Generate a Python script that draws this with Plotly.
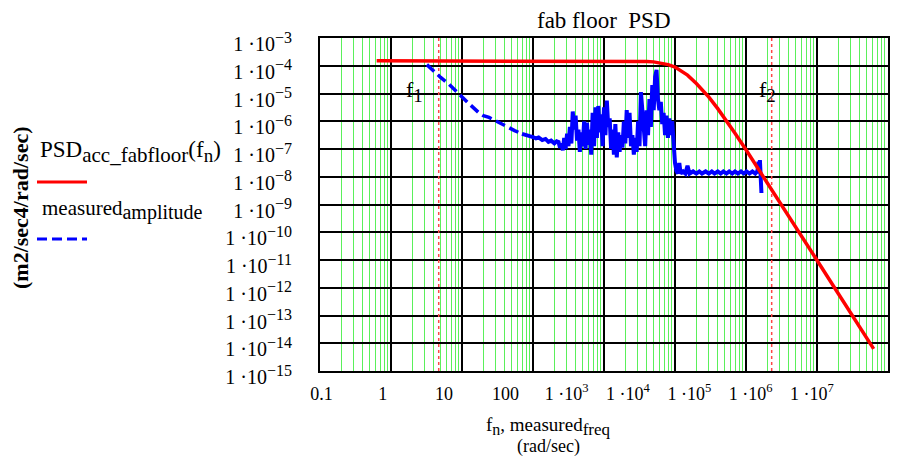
import math
import plotly.graph_objects as go

# ---------------- data ----------------
psd_freq = [0.628, 100, 1000, 2000, 3000, 4000, 5000, 6000, 7000, 8000,
            1.0e4, 1.2e4, 1.5e4, 2.0e4, 2.5e4, 3.0e4, 4.0e4, 5.0e4, 7.0e4,
            1.0e5, 1.5e5, 2.0e5, 3.0e5, 5.0e5, 7.0e5, 1.0e6, 2.0e6, 4.0e6, 6.28e6]
psd_value = [1.5e-4, 1.5e-4, 1.49e-4, 1.48e-4, 1.47e-4, 1.43e-4, 1.38e-4, 1.3e-4, 1.2e-4, 1.1e-4,
             9.0e-5, 6.8e-5, 4.6e-5, 2.3e-5, 1.27e-5, 7.4e-6, 2.85e-6, 1.29e-6, 3.7e-7,
             9.4e-8, 1.9e-8, 6.1e-9, 1.21e-9, 1.57e-10, 4.1e-11, 9.8e-12, 6.1e-13, 3.8e-14, 6.3e-15]

measured_freq = [
    3.2, 4.0, 5.0, 6.5, 9.1, 12, 17, 20, 24, 30, 42, 55, 70,
    80, 90, 100, 110, 120, 135, 150, 165, 180, 200, 215,
    229, 240, 251, 263, 275, 288, 302, 316, 331, 347, 363, 380, 398, 417, 437, 457,
    479, 501, 525, 550, 575, 603, 631, 661, 692, 724, 759, 794, 832, 871, 912, 955,
    1000, 1047, 1096, 1148, 1202, 1259, 1318, 1380, 1445, 1514, 1585, 1660, 1738, 1820,
    1905, 1995, 2089, 2188, 2291, 2399, 2512, 2630, 2754, 2884, 3020, 3162, 3311, 3467,
    3631, 3802, 3981, 4169, 4365, 4571, 4786, 5012, 5248, 5495, 5754, 6026, 6310, 6607,
    6918, 7244, 7586, 7943, 8318, 8710, 9120, 9550, 10000,
    1.05e4, 1.1e4, 1.15e4, 1.2e4, 1.3e4, 1.4e4, 1.5e4, 1.6e4, 1.8e4, 2.0e4, 2.2e4,
    2.4e4, 2.7e4, 3.0e4, 3.3e4, 3.6e4, 4.0e4, 4.4e4, 4.8e4, 5.3e4, 5.8e4, 6.4e4,
    7.0e4, 7.7e4, 8.5e4, 9.3e4, 1.02e5, 1.12e5, 1.23e5, 1.35e5, 1.45e5, 1.5e5,
    1.53e5, 1.57e5, 1.6e5, 1.65e5]
measured_amplitude = [
    1.1e-4, 6.3e-5, 3.8e-5, 2.2e-5, 9.1e-6, 4.8e-6, 2.1e-6, 1.6e-6, 1.38e-6, 1.0e-6, 6.6e-7, 4.6e-7, 3.5e-7,
    3.3e-7, 2.9e-7, 2.7e-7, 2.4e-7, 2.6e-7, 2.1e-7, 2.3e-7, 1.8e-7, 2.0e-7, 1.6e-7, 1.9e-7,
    1.78e-7, 1.12e-7, 1.58e-7, 8.9e-8, 2.5e-7, 1.0e-7, 3.55e-7, 1.26e-7, 6.3e-7, 1.58e-7, 2.24e-6, 5.0e-7,
    1.58e-6, 2.0e-7, 5.0e-7, 7.9e-8,
    4.0e-7, 1.26e-7, 1.0e-6, 1.0e-7, 8.9e-7, 1.41e-7, 5.0e-7, 6.3e-8, 2.0e-6, 1.26e-7, 3.16e-6, 2.5e-7,
    3.55e-6, 4.0e-7, 1.78e-6, 1.26e-7,
    3.16e-6, 3.16e-7, 5.6e-6, 6.3e-7, 1.26e-6, 1.0e-7, 5.0e-7, 6.3e-8, 7.9e-7, 5.0e-8, 4.0e-7, 7.9e-8,
    3.16e-7, 1.12e-7,
    1.0e-6, 1.58e-7, 2.5e-6, 2.5e-7, 2.0e-6, 1.26e-7, 3.16e-7, 6.3e-8, 2.5e-7, 7.9e-8, 1.0e-6, 1.26e-7,
    1.12e-5, 2.5e-6,
    5.0e-7, 1.26e-7, 2.5e-6, 3.16e-7, 6.3e-6, 6.3e-7, 2.0e-5, 2.5e-6, 4.0e-5, 7.1e-5, 6.3e-6, 2.5e-6,
    5.0e-6, 7.9e-7, 2.0e-6, 3.16e-7, 1.58e-6, 2.5e-7, 1.26e-6, 3.16e-7, 1.0e-6, 1.26e-7, 3.16e-8,
    1.6e-8, 1.3e-8, 3.16e-8, 1.3e-8, 1.55e-8, 1.3e-8, 2.5e-8, 1.3e-8, 1.55e-8, 1.3e-8, 1.55e-8,
    1.3e-8, 1.55e-8, 1.3e-8, 1.55e-8, 1.3e-8, 1.55e-8, 1.3e-8, 1.55e-8, 1.3e-8, 1.55e-8, 1.3e-8,
    1.55e-8, 1.3e-8, 1.55e-8, 1.3e-8, 1.55e-8, 1.3e-8, 1.55e-8, 1.3e-8, 1.6e-8, 3.5e-8,
    1.3e-8, 4.0e-8, 1.4e-8, 2.6e-9]
dash_limit_freq = 70          # below this the measured trace shows its dashes
f1_freq = 4.7
f2_freq = 2.3e5

x_tick_vals = [0.1, 1, 10, 100, 1e3, 1e4, 1e5, 1e6, 1e7]
x_tick_text = ["0.1", "1", "10", "100", "1 ·10<sup>3</sup>", "1 ·10<sup>4</sup>",
               "1 ·10<sup>5</sup>", "1 ·10<sup>6</sup>", "1 ·10<sup>7</sup>"]
y_exponents = [-3, -4, -5, -6, -7, -8, -9, -10, -11, -12, -13, -14, -15]
y_tick_vals = [10.0 ** e for e in y_exponents]
y_tick_text = ["1 ·10<sup><span style='font-size:16px'>−%d</span></sup>" % (-e) for e in y_exponents]

# ---------------- figure ----------------
SERIF = "Liberation Serif, Times New Roman, serif"
W, H = 914, 473
L, R, T, B = 320, 26, 38, 102
PW, PH = W - L - R, H - T - B


def px(xp):   # pixel -> paper x
    return (xp - L) / PW


def py(yp):   # pixel -> paper y
    return (H - B - yp) / PH


def big_sub(s, size):
    return "<sub><span style='font-size:%dpx'>%s</span></sub>" % (size, s)


fig = go.Figure()

split = measured_freq.index(dash_limit_freq)
BLUE = "rgb(0,0,255)"
RED = "rgb(255,0,0)"

# f1 / f2 markers
for f in (f1_freq, f2_freq):
    fig.add_trace(go.Scatter(x=[f, f], y=[y_tick_vals[-1], y_tick_vals[0]], mode="lines",
                             line=dict(color="rgb(255,70,70)", width=1.5, dash="dot"),
                             hoverinfo="skip"))

fig.add_trace(go.Scatter(x=measured_freq[:split + 1], y=measured_amplitude[:split + 1],
                         mode="lines", line=dict(color=BLUE, width=3.5, dash="10px,5px")))
fig.add_trace(go.Scatter(x=measured_freq[split:], y=measured_amplitude[split:],
                         mode="lines", line=dict(color=BLUE, width=4)))
fig.add_trace(go.Scatter(x=psd_freq, y=psd_value, mode="lines",
                         line=dict(color=RED, width=3.5)))
# empty trace that carries the (Mathcad-style, evenly spread) tick-label axis
fig.add_trace(go.Scatter(x=[], y=[], xaxis="x2", yaxis="y", hoverinfo="skip"))

minor_x = [m * 10.0 ** e for e in range(-1, 7) for m in range(2, 10)]

# Mathcad spreads the x tick labels evenly (about 61 px apart, starting at the left edge)
label_slots = list(range(len(x_tick_text)))
LABEL_STEP_PX, LABEL_START_PX = 61.3, 1.5

fig.update_layout(
    width=W, height=H, margin=dict(l=L, r=R, t=T, b=B),
    paper_bgcolor="white", plot_bgcolor="white", showlegend=False,
    font=dict(family=SERIF, size=18, color="black"),
    xaxis=dict(type="log", range=[-1, 7], tickmode="array", tickvals=x_tick_vals,
               showticklabels=False, showgrid=True, gridcolor="black", gridwidth=2,
               showline=True, mirror=True, linecolor="black", linewidth=2, ticks="",
               zeroline=False,
               minor=dict(tickmode="array", tickvals=minor_x, showgrid=True,
                          gridcolor="rgb(90,240,90)", gridwidth=1.2, ticks="")),
    xaxis2=dict(overlaying="x", anchor="y", side="bottom",
                range=[-LABEL_START_PX / LABEL_STEP_PX, (PW - LABEL_START_PX) / LABEL_STEP_PX],
                tickmode="array", tickvals=label_slots, ticktext=x_tick_text,
                showgrid=False, zeroline=False, showline=False, ticks="",
                tickfont=dict(family=SERIF, size=18, color="black"), ticklabelstandoff=10),
    yaxis=dict(type="log", range=[-15, -3], tickmode="array", tickvals=y_tick_vals,
               ticktext=y_tick_text, showgrid=True, gridcolor="black", gridwidth=2,
               showline=True, mirror=True, linecolor="black", linewidth=2, ticks="",
               zeroline=False, tickfont=dict(family=SERIF, size=20, color="black"),
               ticklabelstandoff=22, ticklabelshift=6),
)

ann = []
ann.append(dict(text="fab floor&nbsp; PSD", xref="paper", yref="paper", x=0.5, y=py(20),
                xanchor="center", yanchor="middle", showarrow=False,
                font=dict(family=SERIF, size=23, color="black")))
ann.append(dict(text="f" + big_sub("n", 16) + ", measured" + big_sub("freq", 17),
                xref="paper", yref="paper",
                x=px(548), y=py(426), xanchor="center", yanchor="middle", showarrow=False,
                font=dict(family=SERIF, size=19, color="black")))
ann.append(dict(text="(rad/sec)", xref="paper", yref="paper",
                x=px(548), y=py(446), xanchor="center", yanchor="middle", showarrow=False,
                font=dict(family=SERIF, size=18, color="black")))
ann.append(dict(text="<b>(m2/sec4/rad/sec)</b>", xref="paper", yref="paper",
                x=px(20), y=py(208), xanchor="center", yanchor="middle", textangle=-90,
                showarrow=False, font=dict(family=SERIF, size=22, color="black")))
ann.append(dict(text="PSD" + big_sub("acc_fabfloor", 21) + "(f" + big_sub("n", 19) + ")",
                xref="paper", yref="paper",
                x=px(38), y=py(152), xanchor="left", yanchor="middle", showarrow=False,
                font=dict(family=SERIF, size=23, color="black")))
ann.append(dict(text="measured" + big_sub("amplitude", 20), xref="paper", yref="paper",
                x=px(40), y=py(210), xanchor="left", yanchor="middle", showarrow=False,
                font=dict(family=SERIF, size=21, color="black")))
ann.append(dict(text="f" + big_sub("1", 19), xref="x", yref="y", x=math.log10(f1_freq), y=-5.0,
                xanchor="right", yanchor="middle", xshift=-14, yshift=2, showarrow=False,
                font=dict(family=SERIF, size=22, color="black")))
ann.append(dict(text="f" + big_sub("2", 19), xref="x", yref="y", x=math.log10(f2_freq), y=-5.0,
                xanchor="right", yanchor="middle", xshift=6, yshift=2, showarrow=False,
                font=dict(family=SERIF, size=22, color="black")))
fig.update_layout(annotations=ann)

# legend samples
fig.add_shape(type="line", xref="paper", yref="paper", x0=px(37), x1=px(87), y0=py(182), y1=py(182),
              line=dict(color=RED, width=3))
fig.add_shape(type="line", xref="paper", yref="paper", x0=px(37), x1=px(87), y0=py(239), y1=py(239),
              line=dict(color=BLUE, width=3, dash="10px,5px"))

fig.write_html("out.html", config={"displayModeBar": False},
               post_script="document.body.style.margin='0px';")
